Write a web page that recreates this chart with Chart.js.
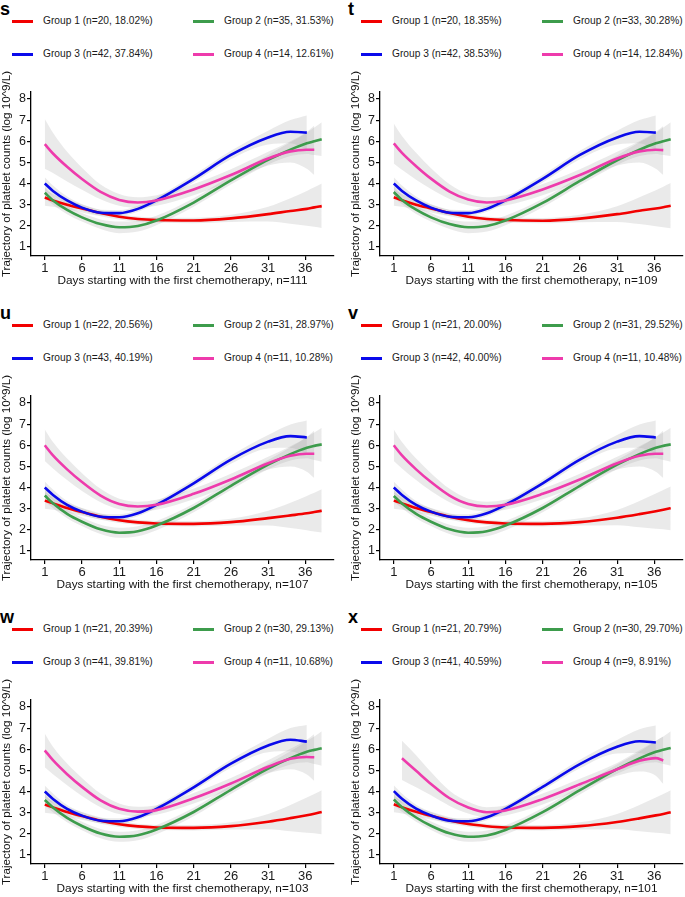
<!DOCTYPE html>
<html>
<head>
<meta charset="utf-8">
<script src="https://cdn.jsdelivr.net/npm/chart.js@4.4.0/dist/chart.umd.min.js"></script>
<style>
  body { margin: 0; background: #fff; }
  #fig { position: relative; width: 685px; height: 897px; font-family: "Liberation Sans", Arial, sans-serif; }
  .tag { position: absolute; font-weight: bold; font-size: 18px; line-height: 18px; color: #000; }
  .key { position: absolute; height: 0; }
  .key i { position: absolute; left: 0; top: -1.5px; width: 21px; height: 3px; }
  .key span { position: absolute; left: 31px; top: 0; transform: translateY(-52%); font-size: 10.2px; color: #1a1a1a; white-space: nowrap; }
  canvas { position: absolute; }
</style>
</head>
<body>
<div id="fig"></div>
<script>
// sample days shared by every curve
const days = [1, 2.1, 4, 6, 8.5, 11, 13.5, 16, 21, 26, 31, 34, 36.2, 37.2, 38.2];
const xTicks = [1, 6, 11, 16, 21, 26, 31, 36];
const yTicks = [1, 2, 3, 4, 5, 6, 7, 8];

const panelTags = ['s', 't', 'u', 'v', 'w', 'x'];
const panelTotals = [111, 109, 107, 105, 103, 101];
const groupNames = ['Group 1', 'Group 2', 'Group 3', 'Group 4'];

const countsS = [20, 35, 42, 14];
const countsT = [20, 33, 42, 14];
const countsU = [22, 31, 43, 11];
const countsV = [21, 31, 42, 11];
const countsW = [21, 30, 41, 11];
const countsX = [21, 30, 41, 9];

const pctS = ['18.02', '31.53', '37.84', '12.61'];
const pctT = ['18.35', '30.28', '38.53', '12.84'];
const pctU = ['20.56', '28.97', '40.19', '10.28'];
const pctV = ['20.00', '29.52', '40.00', '10.48'];
const pctW = ['20.39', '29.13', '39.81', '10.68'];
const pctX = ['20.79', '29.70', '40.59', '8.91'];

// fitted trajectories, group 1..4
const meanS = [
  [3.34, 3.2, 3.0, 2.82, 2.6, 2.43, 2.32, 2.27, 2.25, 2.35, 2.55, 2.7, 2.8, 2.87, 2.93],
  [3.56, 3.2, 2.75, 2.4, 2.08, 1.93, 1.99, 2.25, 3.1, 4.15, 5.12, 5.6, 5.9, 6.0, 6.1],
  [4.0, 3.65, 3.2, 2.86, 2.62, 2.6, 2.8, 3.2, 4.22, 5.35, 6.18, 6.45, 6.41],
  [5.86, 5.42, 4.79, 4.21, 3.6, 3.22, 3.1, 3.2, 3.72, 4.4, 5.18, 5.52, 5.6, 5.6]
];
const lowS = [
  [2.95, 2.9, 2.78, 2.63, 2.45, 2.3, 2.2, 2.15, 2.12, 2.18, 2.2, 2.1, 2.0, 1.95, 1.9],
  [3.3, 3.0, 2.55, 2.2, 1.85, 1.65, 1.73, 2.03, 2.9, 3.95, 4.9, 5.3, 5.4, 5.35, 5.3],
  [3.72, 3.42, 3.02, 2.72, 2.49, 2.47, 2.66, 3.05, 4.05, 5.15, 5.85, 5.9, 5.6],
  [4.7, 4.5, 4.1, 3.7, 3.25, 2.95, 2.85, 2.95, 3.45, 4.12, 4.85, 5.0, 4.7, 4.4]
];
const highS = [
  [3.72, 3.5, 3.22, 3.01, 2.75, 2.56, 2.44, 2.39, 2.38, 2.52, 2.9, 3.3, 3.65, 3.82, 4.0],
  [3.82, 3.42, 2.95, 2.6, 2.3, 2.2, 2.25, 2.48, 3.3, 4.35, 5.35, 5.95, 6.4, 6.65, 6.9],
  [4.3, 3.9, 3.38, 3.02, 2.76, 2.74, 2.95, 3.35, 4.4, 5.55, 6.5, 7.0, 7.22],
  [7.05, 6.4, 5.5, 4.75, 3.95, 3.5, 3.35, 3.45, 3.98, 4.68, 5.5, 6.0, 6.45, 6.75]
];

const meanT = [
  [3.35, 3.21, 3.0, 2.82, 2.6, 2.43, 2.32, 2.27, 2.24, 2.34, 2.55, 2.71, 2.82, 2.88, 2.95],
  [3.6, 3.22, 2.76, 2.4, 2.08, 1.93, 1.99, 2.25, 3.08, 4.12, 5.1, 5.6, 5.9, 6.0, 6.1],
  [4.0, 3.65, 3.2, 2.86, 2.62, 2.6, 2.8, 3.2, 4.22, 5.35, 6.18, 6.45, 6.41],
  [5.9, 5.45, 4.82, 4.23, 3.62, 3.24, 3.1, 3.2, 3.72, 4.4, 5.18, 5.52, 5.6, 5.58]
];
const lowT = [
  [2.95, 2.9, 2.78, 2.63, 2.45, 2.3, 2.2, 2.15, 2.12, 2.17, 2.18, 2.08, 1.98, 1.93, 1.88],
  [3.33, 3.02, 2.56, 2.2, 1.85, 1.65, 1.73, 2.03, 2.88, 3.92, 4.88, 5.3, 5.4, 5.35, 5.3],
  [3.72, 3.42, 3.02, 2.72, 2.49, 2.47, 2.66, 3.05, 4.05, 5.15, 5.85, 5.9, 5.6],
  [4.95, 4.65, 4.18, 3.74, 3.27, 2.97, 2.86, 2.96, 3.45, 4.12, 4.85, 5.0, 4.7, 4.4]
];
const highT = [
  [3.72, 3.5, 3.22, 3.01, 2.75, 2.56, 2.44, 2.39, 2.37, 2.52, 2.92, 3.35, 3.68, 3.85, 4.02],
  [3.86, 3.44, 2.96, 2.6, 2.3, 2.2, 2.25, 2.48, 3.28, 4.32, 5.33, 5.95, 6.4, 6.65, 6.9],
  [4.3, 3.9, 3.38, 3.02, 2.76, 2.74, 2.95, 3.35, 4.4, 5.55, 6.5, 7.0, 7.22],
  [6.84, 6.25, 5.45, 4.72, 3.97, 3.51, 3.35, 3.45, 3.98, 4.68, 5.5, 6.0, 6.45, 6.72]
];

const meanU = [
  [3.38, 3.25, 3.03, 2.84, 2.62, 2.45, 2.35, 2.3, 2.28, 2.36, 2.55, 2.68, 2.78, 2.84, 2.9],
  [3.62, 3.25, 2.75, 2.38, 2.02, 1.86, 1.93, 2.2, 3.03, 4.08, 5.08, 5.58, 5.88, 5.97, 6.04],
  [4.0, 3.65, 3.18, 2.86, 2.62, 2.59, 2.78, 3.18, 4.2, 5.32, 6.17, 6.43, 6.37],
  [6.0, 5.52, 4.86, 4.26, 3.62, 3.22, 3.1, 3.18, 3.7, 4.38, 5.15, 5.5, 5.6, 5.6]
];
const lowU = [
  [3.0, 2.95, 2.82, 2.66, 2.48, 2.32, 2.23, 2.18, 2.16, 2.2, 2.2, 2.08, 1.98, 1.92, 1.87],
  [3.35, 3.03, 2.55, 2.18, 1.8, 1.62, 1.69, 1.98, 2.83, 3.88, 4.86, 5.28, 5.38, 5.3, 5.22],
  [3.73, 3.43, 3.0, 2.72, 2.49, 2.46, 2.64, 3.03, 4.03, 5.12, 5.85, 5.88, 5.58],
  [5.25, 4.9, 4.35, 3.83, 3.3, 2.97, 2.87, 2.95, 3.45, 4.12, 4.85, 5.0, 4.75, 4.45]
];
const highU = [
  [3.76, 3.55, 3.25, 3.03, 2.77, 2.58, 2.47, 2.42, 2.41, 2.52, 2.9, 3.28, 3.6, 3.75, 3.92],
  [3.9, 3.47, 2.95, 2.58, 2.24, 2.1, 2.17, 2.42, 3.23, 4.28, 5.3, 5.9, 6.38, 6.6, 6.83],
  [4.29, 3.9, 3.36, 3.02, 2.76, 2.73, 2.93, 3.33, 4.38, 5.52, 6.48, 6.98, 7.17],
  [6.75, 6.15, 5.37, 4.68, 3.94, 3.47, 3.33, 3.42, 3.95, 4.65, 5.45, 5.95, 6.4, 6.7]
];

const meanV = [
  [3.38, 3.25, 3.03, 2.84, 2.62, 2.45, 2.35, 2.3, 2.28, 2.36, 2.57, 2.74, 2.88, 2.95, 3.02],
  [3.6, 3.24, 2.75, 2.38, 2.02, 1.86, 1.93, 2.2, 3.03, 4.08, 5.08, 5.58, 5.88, 5.97, 6.04],
  [4.0, 3.65, 3.18, 2.86, 2.62, 2.59, 2.78, 3.18, 4.2, 5.32, 6.17, 6.43, 6.37],
  [6.0, 5.52, 4.86, 4.26, 3.62, 3.22, 3.1, 3.18, 3.7, 4.38, 5.15, 5.5, 5.6, 5.6]
];
const lowV = [
  [3.0, 2.95, 2.82, 2.66, 2.48, 2.32, 2.23, 2.18, 2.16, 2.2, 2.22, 2.12, 2.05, 2.02, 1.98],
  [3.33, 3.02, 2.55, 2.18, 1.8, 1.62, 1.69, 1.98, 2.83, 3.88, 4.86, 5.28, 5.38, 5.3, 5.22],
  [3.73, 3.43, 3.0, 2.72, 2.49, 2.46, 2.64, 3.03, 4.03, 5.12, 5.85, 5.88, 5.58],
  [5.25, 4.9, 4.35, 3.83, 3.3, 2.97, 2.87, 2.95, 3.45, 4.12, 4.85, 5.0, 4.75, 4.45]
];
const highV = [
  [3.76, 3.55, 3.25, 3.03, 2.77, 2.58, 2.47, 2.42, 2.41, 2.54, 2.94, 3.36, 3.72, 3.88, 4.05],
  [3.88, 3.46, 2.95, 2.58, 2.24, 2.1, 2.17, 2.42, 3.23, 4.28, 5.3, 5.9, 6.38, 6.6, 6.83],
  [4.29, 3.9, 3.36, 3.02, 2.76, 2.73, 2.93, 3.33, 4.38, 5.52, 6.48, 6.98, 7.17],
  [6.75, 6.15, 5.37, 4.68, 3.94, 3.47, 3.33, 3.42, 3.95, 4.65, 5.45, 5.95, 6.4, 6.7]
];

const meanW = [
  [3.38, 3.25, 3.03, 2.84, 2.62, 2.45, 2.35, 2.3, 2.28, 2.36, 2.57, 2.74, 2.88, 2.95, 3.03],
  [3.6, 3.24, 2.75, 2.37, 2.01, 1.86, 1.93, 2.2, 3.03, 4.08, 5.08, 5.58, 5.88, 5.97, 6.05],
  [4.0, 3.65, 3.18, 2.86, 2.62, 2.59, 2.78, 3.18, 4.2, 5.32, 6.18, 6.45, 6.36],
  [5.95, 5.48, 4.82, 4.22, 3.58, 3.18, 3.05, 3.12, 3.68, 4.38, 5.17, 5.55, 5.63, 5.62]
];
const lowW = [
  [3.0, 2.95, 2.82, 2.66, 2.48, 2.32, 2.23, 2.18, 2.16, 2.2, 2.22, 2.12, 2.05, 2.02, 1.98],
  [3.33, 3.02, 2.55, 2.17, 1.79, 1.62, 1.69, 1.98, 2.83, 3.88, 4.86, 5.28, 5.38, 5.3, 5.22],
  [3.73, 3.43, 3.0, 2.72, 2.49, 2.46, 2.64, 3.03, 4.03, 5.12, 5.86, 5.9, 5.58],
  [5.15, 4.82, 4.3, 3.79, 3.26, 2.93, 2.82, 2.9, 3.43, 4.12, 4.86, 5.05, 4.8, 4.5]
];
const highW = [
  [3.76, 3.55, 3.25, 3.03, 2.77, 2.58, 2.47, 2.42, 2.41, 2.54, 2.94, 3.36, 3.72, 3.88, 4.06],
  [3.88, 3.46, 2.95, 2.57, 2.23, 2.1, 2.17, 2.42, 3.23, 4.28, 5.3, 5.9, 6.38, 6.6, 6.85],
  [4.29, 3.9, 3.36, 3.02, 2.76, 2.73, 2.93, 3.33, 4.38, 5.52, 6.5, 7.0, 7.15],
  [6.75, 6.12, 5.32, 4.64, 3.9, 3.43, 3.28, 3.35, 3.93, 4.64, 5.48, 6.02, 6.45, 6.72]
];

const meanX = [
  [3.4, 3.26, 3.04, 2.85, 2.63, 2.46, 2.36, 2.3, 2.28, 2.36, 2.56, 2.73, 2.87, 2.94, 3.02],
  [3.62, 3.26, 2.77, 2.38, 2.02, 1.86, 1.92, 2.18, 3.02, 4.06, 5.06, 5.57, 5.88, 5.98, 6.06],
  [4.02, 3.66, 3.19, 2.87, 2.62, 2.59, 2.78, 3.18, 4.22, 5.3, 6.12, 6.38, 6.32],
  [null, 5.57, 4.98, 4.36, 3.68, 3.24, 3.02, 3.1, 3.64, 4.34, 5.05, 5.45, 5.58, 5.47]
];
const lowX = [
  [3.02, 2.96, 2.83, 2.67, 2.49, 2.33, 2.24, 2.18, 2.16, 2.2, 2.22, 2.12, 2.05, 2.02, 1.98],
  [3.35, 3.04, 2.57, 2.18, 1.8, 1.62, 1.68, 1.96, 2.82, 3.86, 4.84, 5.27, 5.38, 5.3, 5.22],
  [3.74, 3.44, 3.01, 2.73, 2.49, 2.46, 2.64, 3.03, 4.05, 5.1, 5.8, 5.82, 5.52],
  [null, 4.55, 4.2, 3.82, 3.32, 2.96, 2.78, 2.86, 3.38, 4.08, 4.75, 4.95, 4.75, 4.35]
];
const highX = [
  [3.78, 3.56, 3.26, 3.04, 2.78, 2.59, 2.48, 2.42, 2.41, 2.54, 2.94, 3.36, 3.72, 3.88, 4.06],
  [3.9, 3.48, 2.97, 2.58, 2.24, 2.1, 2.16, 2.4, 3.22, 4.26, 5.28, 5.88, 6.38, 6.6, 6.85],
  [4.3, 3.9, 3.37, 3.03, 2.76, 2.73, 2.93, 3.33, 4.4, 5.5, 6.44, 6.95, 7.12],
  [null, 6.4, 5.72, 4.92, 4.04, 3.52, 3.26, 3.34, 3.9, 4.6, 5.35, 5.95, 6.4, 6.6]
];

const panelCounts = [countsS, countsT, countsU, countsV, countsW, countsX];
const panelPcts = [pctS, pctT, pctU, pctV, pctW, pctX];
const panelMeans = [meanS, meanT, meanU, meanV, meanW, meanX];
const panelLows = [lowS, lowT, lowU, lowV, lowW, lowX];
const panelHighs = [highS, highT, highU, highV, highW, highX];

const colors = ['#f20000', '#3d9c4c', '#0a0aeb', '#ee3bac'];
const bandFill = 'rgba(150,150,150,0.2)';
const fontFam = '"Liberation Sans", Arial, sans-serif';

const fig = document.getElementById('fig');
const colX = [0, 349];
const rowY = [0, 304, 608];

function pts(arr) {
  return days.map((d, i) => ({ x: d, y: arr[i] == null ? null : arr[i] }));
}

panelTags.forEach((tag, p) => {
  const left = colX[p % 2];
  const top = rowY[Math.floor(p / 2)];

  const t = document.createElement('div');
  t.className = 'tag';
  t.textContent = tag;
  t.style.left = (left + (p % 2 ? -1 : 0)) + 'px';
  t.style.top = top + 'px';
  fig.appendChild(t);

  groupNames.forEach((name, g) => {
    const k = document.createElement('div');
    k.className = 'key';
    k.style.left = (left + (g % 2 ? 193 : 12)) + 'px';
    k.style.top = (top + (g < 2 ? 21 : 54)) + 'px';
    k.innerHTML = '<i style="background:' + colors[g] + '"></i><span>' + name +
      ' (n=' + panelCounts[p][g] + ', ' + panelPcts[p][g] + '%)</span>';
    fig.appendChild(k);
  });

  // canvas starts above the plot so the long y title is not clipped
  const cv = document.createElement('canvas');
  cv.width = 336;
  cv.height = 224;
  cv.style.left = left + 'px';
  cv.style.top = (top + 64) + 'px';
  fig.appendChild(cv);

  const datasets = [];
  // lines: group 4 on top
  [3, 2, 1, 0].forEach(g => {
    datasets.push({
      data: pts(panelMeans[p][g]),
      borderColor: colors[g],
      borderWidth: 2.6,
      pointRadius: 0,
      cubicInterpolationMode: 'monotone',
      fill: false
    });
  });
  [0, 1, 2, 3].forEach(g => {
    datasets.push({
      data: pts(panelLows[p][g]),
      borderWidth: 0,
      pointRadius: 0,
      cubicInterpolationMode: 'monotone',
      fill: false
    });
    datasets.push({
      data: pts(panelHighs[p][g]),
      borderWidth: 0,
      pointRadius: 0,
      cubicInterpolationMode: 'monotone',
      fill: '-1',
      backgroundColor: bandFill
    });
  });

  new Chart(cv, {
    type: 'line',
    data: { datasets },
    options: {
      responsive: false,
      animation: false,
      events: [],
      layout: { padding: { top: 28, right: 2, left: 0, bottom: 0 } },
      plugins: {
        legend: { display: false },
        tooltip: { enabled: false },
        filler: { drawTime: 'beforeDatasetsDraw' }
      },
      scales: {
        x: {
          type: 'linear',
          min: -0.85,
          max: 39.85,
          afterBuildTicks: s => { s.ticks = xTicks.map(v => ({ value: v })); },
          afterFit: s => { s.height = 32; },
          grid: { drawOnChartArea: false, tickLength: 4, color: '#000', lineWidth: 1.2 },
          border: { display: true, color: '#000', width: 1.3 },
          ticks: { color: '#1a1a1a', font: { family: fontFam, size: 13 }, padding: 1, maxRotation: 0, autoSkip: false },
          title: {
            display: true,
            text: 'Days starting with the first chemotherapy, n=' + panelTotals[p],
            color: '#111',
            font: { family: fontFam, size: 11.8 },
            padding: { top: 0, bottom: 0 }
          }
        },
        y: {
          min: 0.57,
          max: 8.33,
          afterBuildTicks: s => { s.ticks = yTicks.map(v => ({ value: v })); },
          afterFit: s => { s.width = 31; },
          grid: { drawOnChartArea: false, tickLength: 4, color: '#000', lineWidth: 1.2 },
          border: { display: true, color: '#000', width: 1.3 },
          ticks: { color: '#1a1a1a', font: { family: fontFam, size: 12.5 }, padding: 1 },
          title: {
            display: true,
            text: 'Trajectory of platelet counts (log 10^9/L)',
            color: '#111',
            font: { family: fontFam, size: 11.6 },
            padding: { top: 0, bottom: 0 }
          }
        }
      }
    }
  });
});
</script>
</body>
</html>
